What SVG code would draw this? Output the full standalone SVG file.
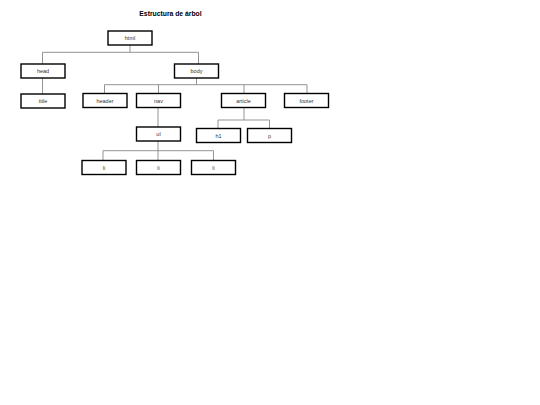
<svg xmlns="http://www.w3.org/2000/svg" width="540" height="405" viewBox="0 0 540 405">
<style>
.bg{fill:#fff}
.node rect{fill:#fff;stroke:#000;stroke-width:1.4}
.node text{font-family:"Liberation Sans",Arial,sans-serif;font-size:5.5px;fill:#333;text-anchor:middle;dominant-baseline:central}
.title{font-family:"Liberation Sans",Arial,sans-serif;font-size:6.8px;font-weight:bold;fill:#000;text-anchor:middle}
#connectors path{fill:none;stroke:#888;stroke-width:0.9}
</style>
<rect class="bg" x="0" y="0" width="540" height="405"/>
<text class="title" x="170.5" y="15.5">Estructura de árbol</text>
<g id="connectors">
<path d="M130 45V52.3M42.5 64V52.3H198.5V64"/>
<path d="M42.5 78V94"/>
<path d="M196.5 78V84.7M104.5 93.5V84.7H307V93.5M158.5 84.7V93.5M244 84.7V93.5"/>
<path d="M158 107.5V127"/>
<path d="M244 107.5V120M218 128.5V120H269.5V128.5"/>
<path d="M158 141V150.7M103 160.5V150.7H213.5V160.5M158 150.7V160.5"/>
</g>
<g id="n-html" class="node"><rect x="108" y="31" width="44" height="14"/><text x="130" y="38">html</text></g>
<g id="n-head" class="node"><rect x="21" y="64" width="44" height="14"/><text x="43" y="71">head</text></g>
<g id="n-body" class="node"><rect x="174.5" y="64" width="44" height="14"/><text x="196.5" y="71">body</text></g>
<g id="n-title" class="node"><rect x="21" y="94" width="44" height="14"/><text x="43" y="101">title</text></g>
<g id="n-header" class="node"><rect x="83" y="93.5" width="44" height="14"/><text x="105" y="100.5">header</text></g>
<g id="n-nav" class="node"><rect x="136.5" y="93.5" width="44" height="14"/><text x="158.5" y="100.5">nav</text></g>
<g id="n-article" class="node"><rect x="221.5" y="93.5" width="44" height="14"/><text x="243.5" y="100.5">article</text></g>
<g id="n-footer" class="node"><rect x="284.5" y="93.5" width="44" height="14"/><text x="306.5" y="100.5">footer</text></g>
<g id="n-ul" class="node"><rect x="136.5" y="127" width="44" height="14"/><text x="158.5" y="134">ul</text></g>
<g id="n-h1" class="node"><rect x="196.5" y="128.5" width="44" height="14"/><text x="218.5" y="135.5">h1</text></g>
<g id="n-p" class="node"><rect x="247.5" y="128.5" width="44" height="14"/><text x="269.5" y="135.5">p</text></g>
<g id="n-li1" class="node"><rect x="82" y="160.5" width="44" height="14"/><text x="104" y="167.5">li</text></g>
<g id="n-li2" class="node"><rect x="136.5" y="160.5" width="44" height="14"/><text x="158.5" y="167.5">li</text></g>
<g id="n-li3" class="node"><rect x="191.5" y="160.5" width="44" height="14"/><text x="213.5" y="167.5">li</text></g>
</svg>
